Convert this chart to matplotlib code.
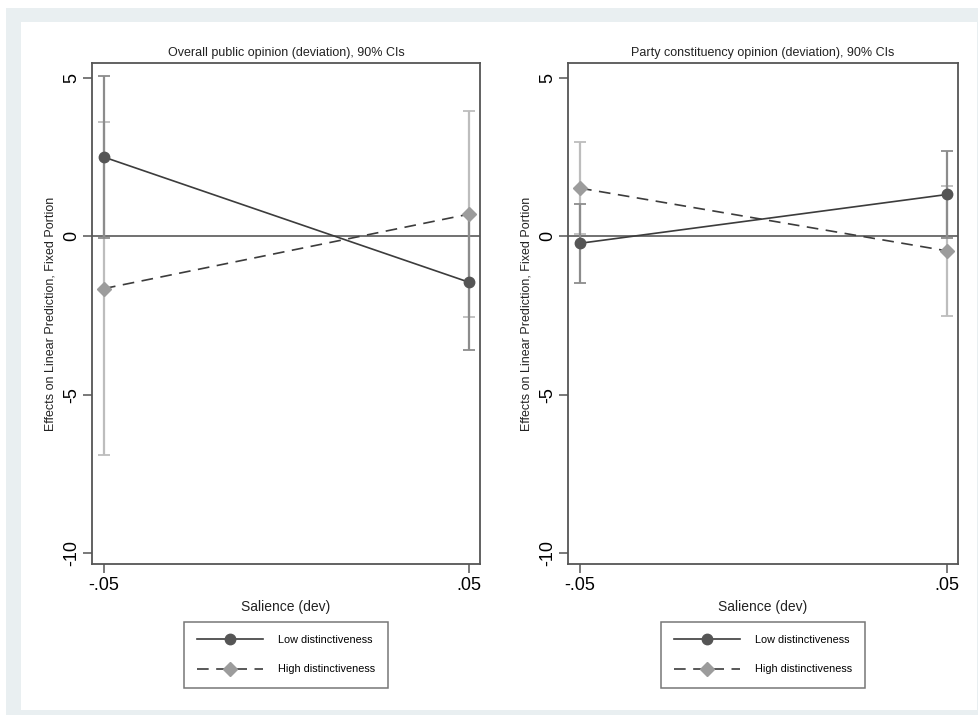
import matplotlib
matplotlib.use("Agg")
import matplotlib.pyplot as plt
from matplotlib.patches import Rectangle
from matplotlib.lines import Line2D

plt.rcParams['font.family'] = ['Liberation Sans', 'DejaVu Sans']

# Salience (deviation) evaluation points
salience = [-0.05, 0.05]
xtick_labels = ["-.05", ".05"]
yticks = [5, 0, -5, -10]

titles = ["Overall public opinion (deviation), 90% CIs",
          "Party constituency opinion (deviation), 90% CIs"]
series_names = ["Low distinctiveness", "High distinctiveness"]

# Overall public opinion: point estimates and 90% CI bounds
overall_low = [2.5, -1.45]
overall_low_lo = [-0.05, -3.6]
overall_low_hi = [5.05, 0.7]
overall_high = [-1.65, 0.7]
overall_high_lo = [-6.9, -2.55]
overall_high_hi = [3.6, 3.95]

# Party constituency opinion: point estimates and 90% CI bounds
party_low = [-0.22, 1.32]
party_low_lo = [-1.46, -0.05]
party_low_hi = [1.02, 2.69]
party_high = [1.52, -0.46]
party_high_lo = [0.07, -2.53]
party_high_hi = [2.97, 1.6]

panels = [
    (overall_low, overall_low_lo, overall_low_hi,
     overall_high, overall_high_lo, overall_high_hi),
    (party_low, party_low_lo, party_low_hi,
     party_high, party_high_lo, party_high_hi),
]

W, H = 979, 715
fig = plt.figure(figsize=(W / 100, H / 100), dpi=100)

# light page frame
fig.patches.append(Rectangle((6 / W, 0), 1 - 6 / W, 1 - 8 / H,
                             transform=fig.transFigure, facecolor="#e9eff1",
                             edgecolor="none", zorder=-10))
fig.patches.append(Rectangle((21 / W, 5 / H), (977 - 21) / W, (715 - 22 - 5) / H,
                             transform=fig.transFigure, facecolor="white",
                             edgecolor="none", zorder=-9))

axes_px = [(92, 480), (568, 958)]
top_px, bot_px = 63, 564

low_line_c = "#3c3c3c"
low_mark_c = "#555555"
high_line_c = "#3c3c3c"
high_mark_c = "#9c9c9c"
low_ci_c = "#8c8c8c"
high_ci_c = "#bdbdbd"
spine_c = "#555555"

for i, (lx, rx) in enumerate(axes_px):
    ax = fig.add_axes([lx / W, 1 - bot_px / H, (rx - lx) / W, (bot_px - top_px) / H])
    low, low_lo, low_hi, high, high_lo, high_hi = panels[i]

    ax.axhline(0, color="#666666", lw=1.3, zorder=1)

    # confidence intervals
    ax.errorbar(salience, high,
                yerr=[[h - l for h, l in zip(high, high_lo)],
                      [u - h for h, u in zip(high, high_hi)]],
                fmt="none", ecolor=high_ci_c, elinewidth=1.6, capsize=4.5,
                capthick=1.3, zorder=2)
    ax.errorbar(salience, low,
                yerr=[[h - l for h, l in zip(low, low_lo)],
                      [u - h for h, u in zip(low, low_hi)]],
                fmt="none", ecolor=low_ci_c, elinewidth=1.6, capsize=4.5,
                capthick=1.3, zorder=3)

    ax.plot(salience, low, color=low_line_c, lw=1.2, zorder=4)
    ax.plot(salience, low, ls="none", marker="o", ms=7.5, mfc=low_mark_c,
            mec=low_mark_c, zorder=6)
    ax.plot(salience, high, color=high_line_c, lw=1.2, dashes=(7, 4.5), zorder=4)
    ax.plot(salience, high, ls="none", marker="D", ms=7.5, mfc=high_mark_c,
            mec=high_mark_c, zorder=6)

    xr = 0.1 / (469 - 104)
    ax.set_xlim(-0.05 - (104 - 92) * xr, 0.05 + (480 - 469) * xr)
    yr = 5 / (237 - 78)
    ax.set_ylim(-10 - (bot_px - 553) * yr, 5 + (78 - top_px) * yr)

    ax.set_xticks(salience)
    ax.set_xticklabels(xtick_labels, fontsize=13)
    ax.set_yticks(yticks)
    ax.set_yticklabels([str(t) for t in yticks], fontsize=13, rotation=90,
                       va="center")
    ax.tick_params(length=6.5, width=1.1, color=spine_c, pad=3)
    ax.tick_params(axis="y", pad=2)

    for s in ax.spines.values():
        s.set_color(spine_c)
        s.set_linewidth(1.3)

    ax.set_title(titles[i], fontsize=9, color="#222222", pad=5)
    ax.set_xlabel("Salience (dev)", fontsize=10, color="#222222", labelpad=4)
    ax.set_ylabel("Effects on Linear Prediction, Fixed Portion", fontsize=9,
                  color="#222222", labelpad=5)

    handles = [
        Line2D([], [], color=low_line_c, lw=1.2, marker="o", ms=7.5,
               mfc=low_mark_c, mec=low_mark_c),
        Line2D([], [], color=high_line_c, lw=1.2, dashes=(7, 4.5), marker="D",
               ms=7.5, mfc=high_mark_c, mec=high_mark_c),
    ]
    leg = ax.legend(handles, series_names, loc="upper center",
                    bbox_to_anchor=(0.5, -(622 - bot_px) / (bot_px - top_px)),
                    fontsize=7.8, frameon=True, fancybox=False, handlelength=6.1,
                    handletextpad=1.35, labelspacing=1.8, borderpad=1.2,
                    borderaxespad=0)
    leg.get_frame().set_edgecolor(spine_c)
    leg.get_frame().set_linewidth(1.1)

fig.savefig("out.png", dpi=100)
